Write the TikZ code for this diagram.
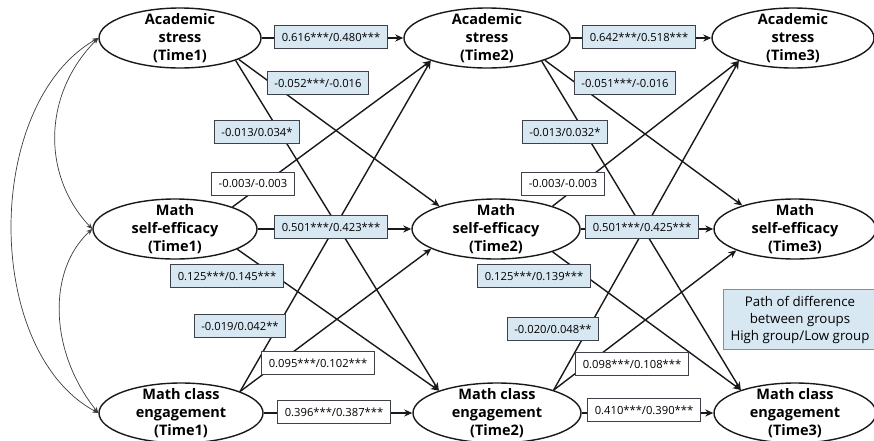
\documentclass[tikz,border=0pt]{standalone}
\usepackage{fontspec}
\setmainfont{Open Sans}
\usetikzlibrary{shapes.geometric,arrows.meta}
\definecolor{lblue}{RGB}{216,232,243}
\definecolor{bordc}{RGB}{60,66,72}
\definecolor{legbord}{RGB}{110,150,185}
\definecolor{ink}{RGB}{25,25,25}
\begin{document}
\begin{tikzpicture}[x=1pt,y=-1pt,
  lat/.style={ellipse, draw=ink, line width=1.4pt, minimum width=#1, minimum height=60pt, inner sep=0pt},
  ltxt/.style={align=center, font=\bfseries\fontsize{14.5}{18}\selectfont, inner sep=0pt},
  arr/.style={draw=ink, line width=1.4pt, -{Stealth[length=8pt,width=7pt,inset=2.5pt]}},
  cov/.style={draw=ink!85, line width=0.7pt, {Stealth[length=6pt,width=5pt,inset=2pt]}-{Stealth[length=6pt,width=5pt,inset=2pt]}},
  pb/.style={draw=bordc, fill=lblue, line width=0.8pt, font=\fontsize{11.2}{13}\selectfont, minimum height=23pt, inner xsep=7pt},
  pw/.style={pb, fill=white},
  legbox/.style={draw=legbord, fill=lblue, line width=0.8pt, minimum width=162pt, minimum height=60pt, inner sep=0pt},
  legtxt/.style={align=center, font=\fontsize{13.3}{17}\selectfont, inner sep=0pt}
]
\useasboundingbox (0,0) rectangle (874,440);
% latent variables
\node[lat=162pt] (AS1) at (180,38) {};
\node[lat=166pt] (AS2) at (487,38) {};
\node[lat=162pt] (AS3) at (793,38) {};
\node[lat=164pt] (MSE1) at (175,229) {};
\node[lat=168pt] (MSE2) at (496,229) {};
\node[lat=162pt] (MSE3) at (795,229) {};
\node[lat=164pt] (MCE1) at (181,413) {};
\node[lat=168pt] (MCE2) at (497,413) {};
\node[lat=162pt] (MCE3) at (795,413) {};
\node[ltxt] (tAS1) at (AS1) {Academic\\stress\\(Time1)};
\node[ltxt] (tAS2) at (AS2) {Academic\\stress\\(Time2)};
\node[ltxt] (tAS3) at (AS3) {Academic\\stress\\(Time3)};
\node[ltxt] (tMSE1) at (MSE1) {Math\\self-efficacy\\(Time1)};
\node[ltxt] (tMSE2) at (MSE2) {Math\\self-efficacy\\(Time2)};
\node[ltxt] (tMSE3) at (MSE3) {Math\\self-efficacy\\(Time3)};
\node[ltxt] (tMCE1) at (MCE1) {Math class\\engagement\\(Time1)};
\node[ltxt] (tMCE2) at (MCE2) {Math class\\engagement\\(Time2)};
\node[ltxt] (tMCE3) at (MCE3) {Math class\\engagement\\(Time3)};
% covariances
\draw[cov] (AS1.west) .. controls (42,95) and (42,176) .. (MSE1.west);
\draw[cov] (AS1.west) .. controls (-17,104) and (-17,351) .. (MCE1.west);
\draw[cov] (MSE1.west) .. controls (48,269) and (48,350) .. (MCE1.west);
% paths time1 -> time2
\draw[arr] (AS1) -- (AS2);
\draw[arr] (AS1.-20) -- (MSE2.158);
\draw[arr] (AS1.-22) -- (MCE2.159);
\draw[arr] (MSE1.21) -- (AS2.-158);
\draw[arr] (MSE1) -- (MSE2);
\draw[arr] (MSE1.-18) -- (MCE2.159);
\draw[arr] (MCE1.20) -- (AS2.-158);
\draw[arr] (MCE1.20) -- (MSE2.-163);
\draw[arr] (MCE1) -- (MCE2);
% paths time2 -> time3
\draw[arr] (AS2) -- (AS3);
\draw[arr] (AS2.-21) -- (MSE3.156);
\draw[arr] (AS2.-23) -- (MCE3.157);
\draw[arr] (MSE2.22) -- (AS3.-157);
\draw[arr] (MSE2) -- (MSE3);
\draw[arr] (MSE2.-22) -- (MCE3.157);
\draw[arr] (MCE2.22) -- (AS3.-157);
\draw[arr] (MCE2.22) -- (MSE3.-160);
\draw[arr] (MCE2) -- (MCE3);
% labels time1 -> time2
\node[pb] (l1) at (331,37) {0.616***/0.480***};
\node[pb] (l2) at (318,83) {-0.052***/-0.016};
\node[pb] (l3) at (257,132) {-0.013/0.034*};
\node[pw] (l4) at (253,184) {-0.003/-0.003};
\node[pb] (l5) at (331,227) {0.501***/0.423***};
\node[pb] (l6) at (227,276) {0.125***/0.145***};
\node[pb] (l7) at (240,326) {-0.019/0.042**};
\node[pw] (l8) at (318,363) {0.095***/0.102***};
\node[pw] (l9) at (334,412) {0.396***/0.387***};
% labels time2 -> time3
\node[pb] (m1) at (639,37) {0.642***/0.518***};
\node[pb] (m2) at (625,83) {-0.051***/-0.016};
\node[pb] (m3) at (565,132) {-0.013/0.032*};
\node[pw] (m4) at (563,184) {-0.003/-0.003};
\node[pb] (m5) at (642,227) {0.501***/0.425***};
\node[pb] (m6) at (534,276) {0.125***/0.139***};
\node[pb] (m7) at (553,329) {-0.020/0.048**};
\node[pw] (m8) at (632,364) {0.098***/0.108***};
\node[pw] (m9) at (644,410) {0.410***/0.390***};
% legend
\node[legbox] (leg) at (804,319) {};
\node[legtxt] (legt) at (800,320) {Path of difference\\between groups\\High group/Low group};
\end{tikzpicture}
\end{document}
